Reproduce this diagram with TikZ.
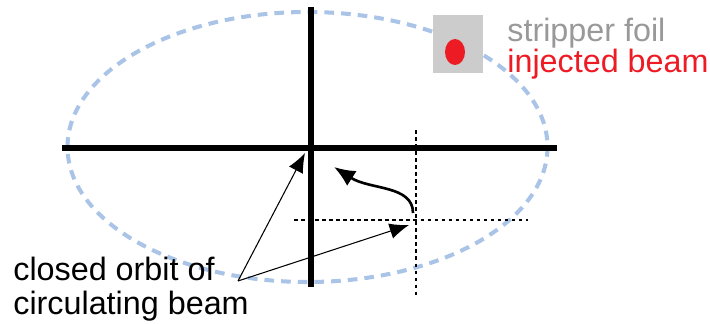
\documentclass[tikz,border=0pt]{standalone}
\usepackage{fontspec}
\setmainfont{Liberation Sans}
\usetikzlibrary{arrows.meta}
\definecolor{orbitblue}{RGB}{169, 196, 230}
\definecolor{foilgrey}{RGB}{204, 204, 204}
\definecolor{labelgrey}{RGB}{153, 153, 153}
\definecolor{beamred}{RGB}{237, 28, 36}
\tikzset{
  axis/.style={line width=2.9pt},
  shifted/.style={line width=1.1pt, dash pattern=on 2pt off 2pt},
  pointer/.style={line width=0.6pt, -{Latex[length=11pt, width=9pt]}},
  txt/.style={font=\fontsize{18.4}{19.5}\selectfont, inner sep=0pt}
}

\begin{document}
\begin{tikzpicture}[x=0.02cm, y=-0.02cm, >=Latex]
      \useasboundingbox (0,0) rectangle (710,324);
      % ring
      \draw[orbitblue, line width=2.3pt, dash pattern=on 5.5pt off 4pt] (307.5,147) ellipse (240 and 135);
      % closed orbit and shifted orbit
      \draw[axis] (62,148) -- (557,148);
      \draw[axis] (311,7) -- (311,287);
      \draw[shifted] (416,130) -- (416,297);
      \draw[shifted] (294,220) -- (528,220);
      % foil
      \fill[foilgrey] (433,15) rectangle (483,73);
      \fill[beamred] (455,52) ellipse (10 and 13);
      \node[txt, font=\fontsize{18.4}{16.5}\selectfont, anchor=base west, align=left] (foil) at (507,73)
        {\textcolor{labelgrey}{stripper foil}\\\textcolor{beamred}{injected beam}};
      % bump
      \coordinate (kickstart) at (413,213);
      \coordinate (kickend) at (334,167);
      \draw[line width=1.5pt, -{Latex[length=12pt, width=10pt]}] (kickstart) .. controls (413,185) and (370,190) .. (kickend);
      % label
      \node[txt, anchor=base west, align=left] (orbit) at (13,315) {closed orbit of\\circulating beam};
      \coordinate (apex) at (238,281);
      \coordinate (tipa) at (305,153);
      \coordinate (tipb) at (409,225);
      \draw[pointer] (apex) -- (tipa);
      \draw[pointer] (apex) -- (tipb);
    \end{tikzpicture}
\end{document}
